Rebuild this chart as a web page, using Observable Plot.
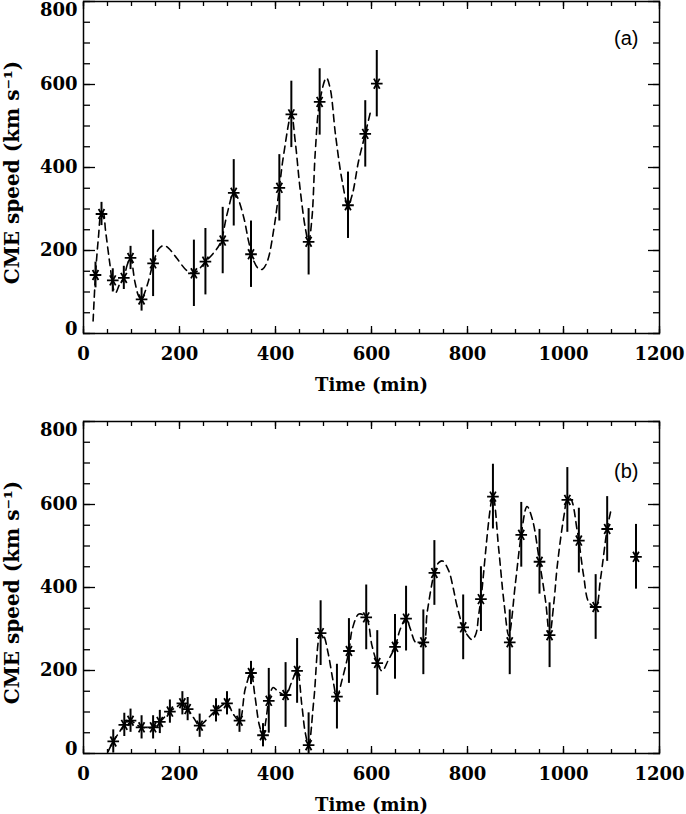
<!DOCTYPE html>
<html><head><meta charset="utf-8">
<script src="https://cdn.jsdelivr.net/npm/d3@7"></script>
<script src="https://cdn.jsdelivr.net/npm/@observablehq/plot@0.6"></script>
<style>body{margin:0;background:#fff} svg{display:block}</style>
</head><body><div id="chart"></div>
<script>
// Panel (a) measurements
const aTime  = [25, 37.5, 61, 84, 98, 121, 145, 230, 254, 290, 313, 349, 408, 433, 469, 492, 551, 587, 611];
const aSpeed = [141, 288, 128, 134, 182, 82, 169, 145, 173, 224, 339, 191, 351, 528, 221, 558, 309, 481, 602];
const aErr   = [31, 28, 28, 28, 28, 28, 80, 80, 80, 80, 80, 80, 80, 80, 80, 80, 80, 80, 80];
// Panel (a) fitted curve
const aCurveT = [20, 25, 31, 37, 41, 46, 55, 63, 67, 75, 84, 91, 98, 107, 115, 121, 128, 135, 145, 157, 167, 177, 194, 215, 230, 243, 254, 268, 285, 299, 313, 320, 334, 344, 355, 365, 373, 383, 397, 408, 417, 433, 441, 451, 462, 469, 476, 483, 492, 506, 514, 525, 539, 551, 560, 573, 587, 599];
const aCurveV = [30, 141, 230, 288, 290, 247, 167, 105, 98, 118, 134, 165, 182, 125, 90, 82, 100, 125, 169, 204, 212, 206, 182, 152, 145, 158, 173, 190, 218, 287, 339, 330, 279, 222, 174, 156, 155, 174, 255, 351, 431, 528, 464, 351, 255, 221, 279, 440, 558, 616, 590, 479, 367, 309, 335, 415, 481, 540];

// Panel (b) measurements
const bTime  = [62, 85, 98, 121, 145, 159, 180, 206, 217, 242, 276, 299, 325, 349, 374, 386, 421, 445, 469, 494, 528, 553, 589, 612, 649, 672, 708, 731, 791, 828, 853, 888, 912, 950, 971, 1008, 1032, 1067, 1091, 1151];
const bSpeed = [29, 69, 79, 63, 63, 76, 101, 121, 107, 67, 104, 121, 79, 194, 44, 127, 141, 199, 20, 290, 137, 247, 328, 218, 257, 325, 268, 435, 304, 372, 619, 268, 527, 462, 285, 611, 513, 353, 541, 474];
const bErr   = [28, 28, 28, 28, 28, 28, 28, 28, 28, 28, 28, 28, 28, 28, 28, 78, 78, 78, 78, 78, 78, 78, 78, 78, 78, 78, 78, 78, 78, 78, 78, 78, 78, 78, 78, 78, 78, 78, 78, 78];
// Panel (b) fitted curve
const bCurveT = [51, 62, 75, 85, 98, 110, 121, 133, 145, 159, 180, 195, 206, 217, 230, 242, 255, 276, 299, 312, 325, 337, 349, 357, 366, 374, 380, 386, 395, 405, 421, 433, 445, 455, 462, 469, 480, 494, 500, 510, 520, 528, 539, 553, 560, 574, 589, 601, 612, 622, 635, 649, 660, 672, 681, 692, 708, 716, 731, 740, 748, 761, 770, 778, 791, 800, 810, 818, 823, 828, 853, 865, 876, 886, 900, 912, 924, 935, 950, 963, 971, 980, 987, 1001, 1008, 1015, 1028, 1032, 1042, 1053, 1067, 1077, 1091, 1099];
const bCurveV = [4, 29, 52, 69, 79, 70, 63, 62, 63, 76, 101, 113, 121, 107, 85, 67, 80, 104, 121, 95, 79, 156, 194, 140, 70, 44, 80, 127, 159, 150, 141, 170, 199, 115, 50, 20, 131, 290, 285, 240, 175, 137, 179, 247, 300, 336, 328, 260, 218, 199, 225, 257, 300, 325, 300, 268, 268, 340, 435, 460, 464, 440, 400, 356, 304, 285, 274, 290, 332, 372, 619, 493, 364, 284, 412, 527, 595, 565, 462, 364, 285, 364, 452, 573, 611, 613, 541, 513, 428, 364, 353, 420, 541, 587];

const xMajor = [0, 200, 400, 600, 800, 1000, 1200];
const xMinor = d3.range(0, 1201, 50);
const yMajor = [0, 200, 400, 600, 800];
const yMinor = d3.range(0, 801, 50);
const xLabel = "Time (min)";
const yLabel = "CME speed (km s\u207B\u00B9)";

function panel(time, speed, err, cT, cV, tag, opt) {
  const pts = time.map((t, i) => ({t, v: speed[i], e: err[i]}));
  const curve = cT.map((t, i) => ({t, v: cV[i]}));
  const serif = "DejaVu Serif";
  const fmt = d3.format("d");
  const tickStyle = {tickFormat: () => "", label: null, strokeWidth: 1.3};
  const txt = {fontSize: 18, fontWeight: "bold", fontFamily: serif};
  return Plot.plot({
    width: 686, height: opt.height,
    marginLeft: 83, marginRight: 27, marginTop: opt.marginTop, marginBottom: opt.marginBottom,
    style: {fontFamily: serif, fontSize: "18px", color: "black", background: "white", overflow: "visible"},
    x: {domain: [0, 1200]},
    y: {domain: [0, 800]},
    marks: [
      // inward ticks
      Plot.axisX({anchor: "bottom", ticks: xMajor, tickSize: -7, ...tickStyle}),
      Plot.axisX({anchor: "bottom", ticks: xMinor, tickSize: -4, ...tickStyle}),
      Plot.axisX({anchor: "top", ticks: xMajor, tickSize: -7, ...tickStyle}),
      Plot.axisX({anchor: "top", ticks: xMinor, tickSize: -4, ...tickStyle}),
      Plot.axisY({anchor: "left", ticks: yMajor, tickSize: -12, ...tickStyle}),
      Plot.axisY({anchor: "left", ticks: yMinor, tickSize: -7, ...tickStyle}),
      Plot.axisY({anchor: "right", ticks: yMajor, tickSize: -12, ...tickStyle}),
      Plot.axisY({anchor: "right", ticks: yMinor, tickSize: -7, ...tickStyle}),
      // tick labels
      Plot.axisX({anchor: "bottom", ticks: xMajor, tickFormat: fmt, tickSize: 0, tickPadding: 14, label: xLabel, labelAnchor: "center", labelArrow: "none", labelOffset: 57, ...txt}),
      Plot.axisY({anchor: "left", ticks: [200, 400, 600], tickFormat: fmt, tickSize: 0, tickPadding: 6, label: null, ...txt}),
      Plot.axisY({anchor: "left", ticks: [0], tickFormat: fmt, tickSize: 0, tickPadding: 6, label: null, dy: -4, ...txt}),
      Plot.axisY({anchor: "left", ticks: [800], tickFormat: fmt, tickSize: 0, tickPadding: 6, label: null, dy: 9, ...txt}),
      Plot.text([yLabel], {text: d => d, frameAnchor: "left", dx: -71, dy: 5, rotate: -90, textAnchor: "middle", lineAnchor: "middle", fontSize: 20, fontWeight: "bold", fontFamily: serif}),
      Plot.frame({stroke: "black", strokeWidth: 1.5}),
      // data
      Plot.line(curve, {x: "t", y: "v", curve: "catmull-rom", stroke: "black", strokeWidth: 1.6, strokeDasharray: "7,5", clip: true}),
      Plot.ruleX(pts, {x: "t", y1: d => d.v - d.e, y2: d => d.v + d.e, stroke: "black", strokeWidth: 2, clip: true}),
      Plot.dot(pts, {x: "t", y: "v", symbol: "asterisk", r: 5.5, stroke: "black", strokeWidth: 1.8, rotate: 90}),
      Plot.text([tag], {text: d => d, frameAnchor: "top-right", dx: -21, dy: opt.tagDy, textAnchor: "end", lineAnchor: "middle", fontFamily: "Liberation Sans", fontSize: 20})
    ]
  });
}

const el = document.getElementById("chart");
el.append(panel(aTime, aSpeed, aErr, aCurveT, aCurveV, "(a)", {height: 410, marginTop: 1, marginBottom: 77, tagDy: 37}));
el.append(panel(bTime, bSpeed, bErr, bCurveT, bCurveV, "(b)", {height: 404, marginTop: 11, marginBottom: 61, tagDy: 50}));
</script>
</body></html>
